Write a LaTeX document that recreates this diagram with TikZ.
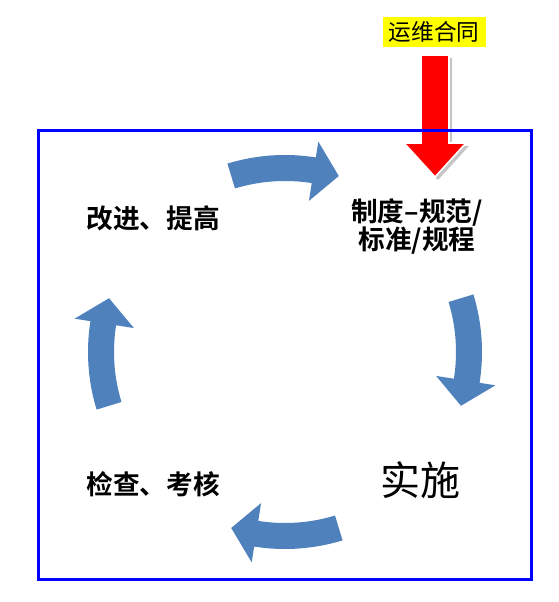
\documentclass[tikz,border=0pt]{standalone}
\usepackage{fontspec}
\newfontfamily\cjk{Noto Sans CJK SC}[BoldFont={* Bold}]
\usepackage{tikz}
\usetikzlibrary{calc}

\definecolor{flowblue}{RGB}{79,129,189}
\definecolor{framblue}{RGB}{0,0,255}
\definecolor{tagyellow}{RGB}{255,255,0}

\tikzset{
    steplabel/.style={font=\cjk\bfseries\fontsize{20}{21}\selectfont, align=center},
    tagbox/.style={fill=tagyellow, inner sep=2pt, font=\cjk\fontsize{17}{20}\selectfont},
}

\begin{document}
\begin{tikzpicture}[x=0.75pt, y=0.75pt]
    \useasboundingbox (0, 0) rectangle (558, 602);

    % Contract tag and the red arrow into the cycle
    \node[tagbox, minimum width=103*0.75pt, minimum height=30*0.75pt] (contract) at (434, 570) {运维合同};
    \fill[gray!45] (424, 544) -- (452, 544) -- (452, 456) -- (469, 456) -- (438, 422) -- (407, 456) -- (424, 456) -- cycle;
    \filldraw[red, draw=white, line width=1.2pt] (421, 547) -- (449, 547) -- (449, 459) -- (466, 459) -- (435, 425) -- (404, 459) -- (421, 459) -- cycle;

    % Frame
    \draw[framblue, line width=2.25pt] (38, 22) rectangle (531, 471);

    % Cycle arrows (clockwise)
    \coordinate (c) at (285, 250);
    \foreach \a in {90, 0, -90, 180} {
        \fill[flowblue] ($(c)+(\a+17:171)$) arc[start angle=\a+17, end angle=\a-9, radius=171]
            -- ($(c)+(\a-9:153)$) -- ($(c)+(\a-17:184)$) -- ($(c)+(\a-9:213)$)
            -- ($(c)+(\a-9:197)$) arc[start angle=\a-9, end angle=\a+17, radius=197] -- cycle;
    }

    % Steps
    \node[steplabel] (rules) at (417, 376) {制度–规范/\\标准/规程};
    \node[font=\cjk\fontsize{30}{34}\selectfont] (doing) at (420, 122) {实施};
    \node[steplabel] (check) at (153, 118) {检查、考核};
    \node[steplabel] (improve) at (153, 384) {改进、提高};
\end{tikzpicture}
\end{document}
